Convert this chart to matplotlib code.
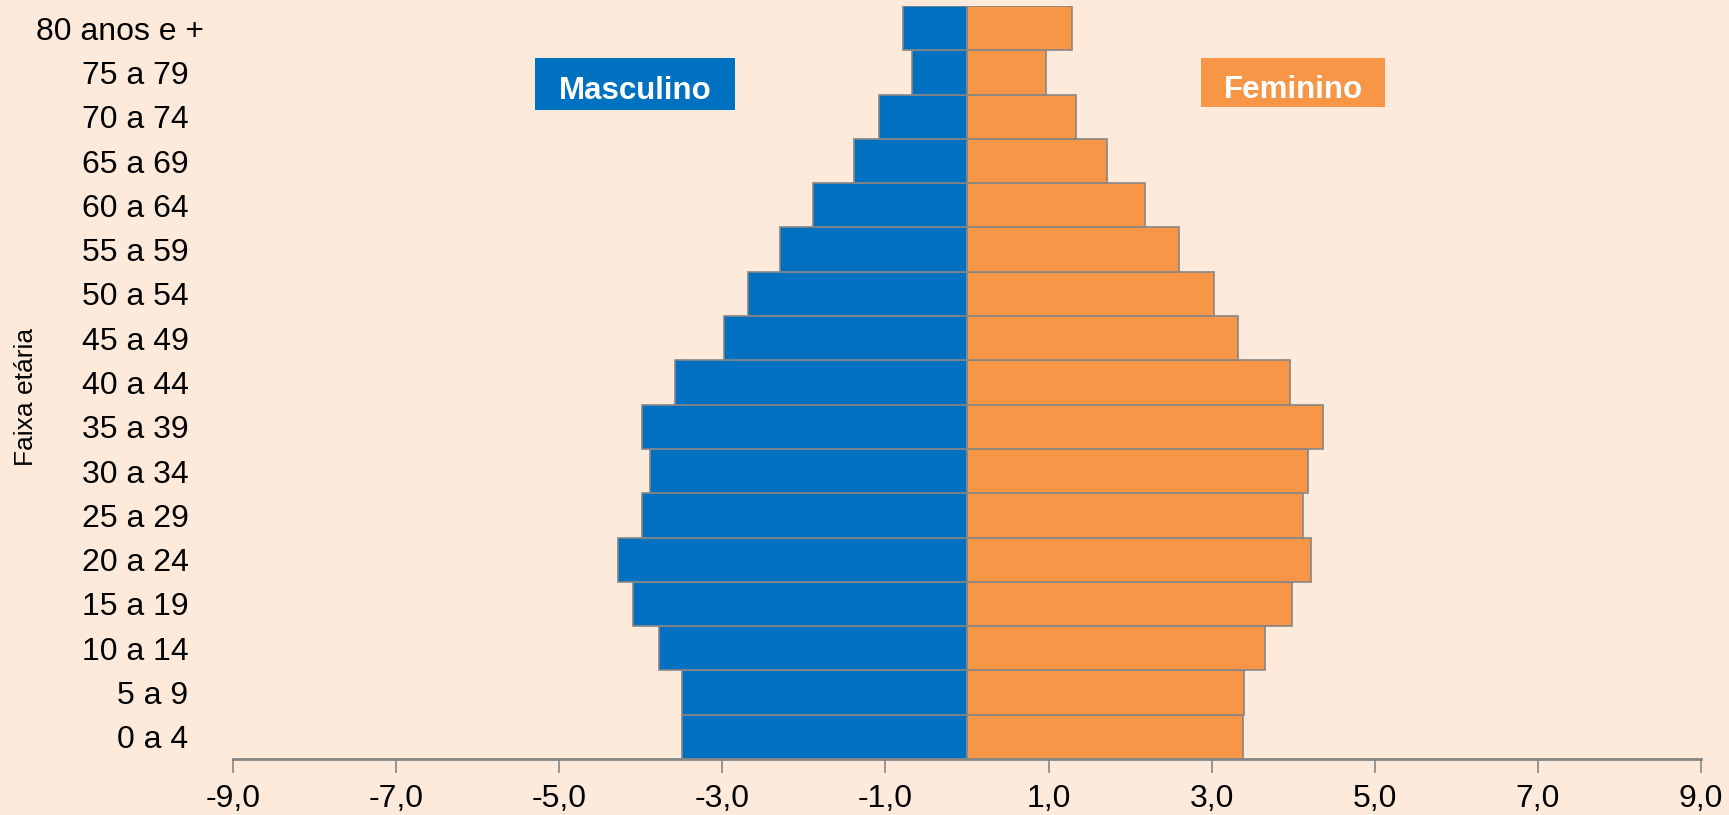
import matplotlib.pyplot as plt
from matplotlib.patches import Rectangle
from matplotlib.transforms import ScaledTranslation

# Faixas etárias (de baixo para cima)
faixas = ['0 a 4', '5 a 9', '10 a 14', '15 a 19', '20 a 24', '25 a 29', '30 a 34',
          '35 a 39', '40 a 44', '45 a 49', '50 a 54', '55 a 59', '60 a 64',
          '65 a 69', '70 a 74', '75 a 79', '80 anos e +']

# percentual da população
masculino = [-3.49, -3.49, -3.78, -4.09, -4.28, -3.99, -3.89, -3.99, -3.58,
             -2.98, -2.69, -2.29, -1.89, -1.38, -1.08, -0.68, -0.78]
feminino = [3.38, 3.40, 3.66, 3.98, 4.22, 4.12, 4.18, 4.37, 3.96,
            3.32, 3.03, 2.60, 2.18, 1.72, 1.34, 0.97, 1.29]

xticks = [-9, -7, -5, -3, -1, 1, 3, 5, 7, 9]

bg = '#FDEADB'
azul = '#0070C0'
laranja = '#F79646'
cinza = '#868686'

plt.rcParams['font.family'] = ['Liberation Sans', 'DejaVu Sans']

W, H = 1729, 815
fig = plt.figure(figsize=(W / 100, H / 100), dpi=100, facecolor=bg)
ax = fig.add_axes([233 / W, 1 - 759 / H, (1701 - 233) / W, (759 - 6) / H])
ax.set_facecolor(bg)

y = range(len(faixas))
ax.barh(y, masculino, height=1.0, color=azul, edgecolor=cinza, linewidth=1.2)
ax.barh(y, feminino, height=1.0, color=laranja, edgecolor=cinza, linewidth=1.2)
ax.axvline(0, color=cinza, linewidth=1.5)

ax.set_xlim(-9, 9)
ax.set_ylim(-0.5, len(faixas) - 0.5)
ax.set_xticks(xticks)
ax.set_xticklabels([f'{v:.1f}'.replace('.', ',') for v in xticks], fontsize=23)
ax.set_yticks(list(y))
ax.set_yticklabels(faixas, fontsize=23)
ax.tick_params(axis='y', length=0, pad=32)
ax.tick_params(axis='x', length=10, width=1.2, color=cinza, pad=8)

# o rótulo do topo fica um pouco mais à direita no original
topo = ax.get_yticklabels()[-1]
topo.set_transform(topo.get_transform() + ScaledTranslation(0.15, 0, fig.dpi_scale_trans))

for s in ['top', 'right', 'left']:
    ax.spines[s].set_visible(False)
ax.spines['bottom'].set_color(cinza)
ax.spines['bottom'].set_linewidth(2)

fig.text(26 / W, 1 - 397 / H, 'Faixa etária', rotation=90, fontsize=19,
         ha='center', va='center')

# caixas de legenda
for x0, x1, y0, y1, txt, cor in [(535, 735, 58, 110, 'Masculino', azul),
                                  (1201, 1385, 58, 107, 'Feminino', laranja)]:
    fig.add_artist(Rectangle((x0 / W, 1 - y1 / H), (x1 - x0) / W, (y1 - y0) / H,
                             transform=fig.transFigure, facecolor=cor,
                             edgecolor='none'))
    fig.text((x0 + x1) / 2 / W, 1 - ((y0 + y1) / 2 + 7) / H, txt, color='white',
             fontsize=22.5, fontweight='bold', ha='center', va='center')

fig.savefig('out.png', dpi=100, facecolor=bg)
